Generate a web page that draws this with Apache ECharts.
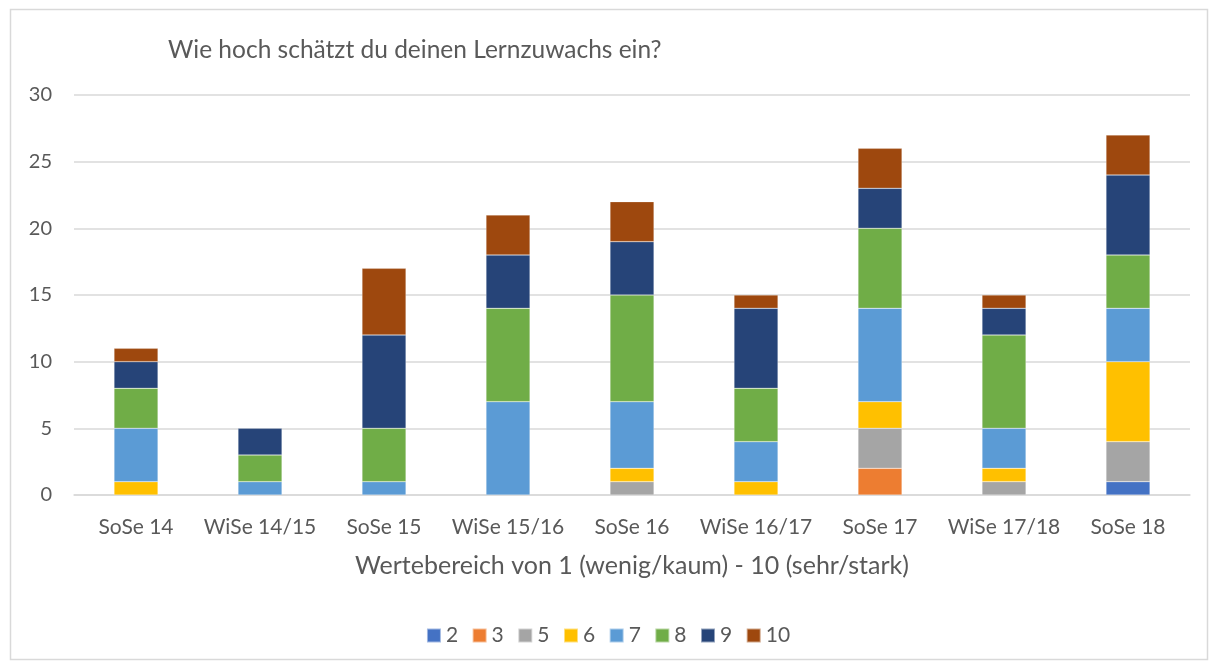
<!DOCTYPE html>
<html>
<head>
<meta charset="utf-8">
<script src="https://cdn.jsdelivr.net/npm/echarts@6/dist/echarts.min.js"></script>
<style>
  html, body { margin: 0; padding: 0; background: #fff; }
  #chart { width: 1216px; height: 668px; }
</style>
</head>
<body>
<div id="chart"></div>
<script>
// semesters and counts per rating (stacked)
const categories = ['SoSe 14', 'WiSe 14/15', 'SoSe 15', 'WiSe 15/16', 'SoSe 16', 'WiSe 16/17', 'SoSe 17', 'WiSe 17/18', 'SoSe 18'];
const rating2  = [0, 0, 0, 0, 0, 0, 0, 0, 1];
const rating3  = [0, 0, 0, 0, 0, 0, 2, 0, 0];
const rating5  = [0, 0, 0, 0, 1, 0, 3, 1, 3];
const rating6  = [1, 0, 0, 0, 1, 1, 2, 1, 6];
const rating7  = [4, 1, 1, 7, 5, 3, 7, 3, 4];
const rating8  = [3, 2, 4, 7, 8, 4, 6, 7, 4];
const rating9  = [2, 2, 7, 4, 4, 6, 3, 2, 6];
const rating10 = [1, 0, 5, 3, 3, 1, 3, 1, 3];
const seriesNames = ['2', '3', '5', '6', '7', '8', '9', '10'];
const yTicks = [0, 5, 10, 15, 20, 25, 30];

(function(){
  const el = document.getElementById('chart');
  const chart = echarts.init(el);
  const font = 'Lato, "Open Sans", sans-serif';
  const gray = '#595959';
  const colors = ['#4472C4', '#ED7D31', '#A5A5A5', '#FFC000', '#5B9BD5', '#70AD47', '#264478', '#9E480E'];
  const data = [rating2, rating3, rating5, rating6, rating7, rating8, rating9, rating10];

  chart.setOption({
    backgroundColor: '#fff',
    textStyle: { fontFamily: font, color: gray },
    title: {
      text: 'Wie hoch schätzt du deinen Lernzuwachs ein?',
      left: 163, top: 33,
      textStyle: { fontFamily: font, fontSize: 24.5, fontWeight: 'normal', color: gray }
    },
    graphic: [{
      type: 'rect', silent: true,
      shape: { x: 10.5, y: 9.5, width: 1197, height: 650 },
      style: { fill: 'none', stroke: '#d9d9d9', lineWidth: 1.5 }
    }],
    legend: {
      data: seriesNames,
      bottom: 17, left: 'center',
      itemWidth: 14, itemHeight: 14, itemGap: 13.5,
      icon: 'rect',
      textStyle: { fontFamily: font, fontSize: 21, color: gray }
    },
    grid: { left: 74, right: 26, top: 95, bottom: 173, containLabel: false },
    xAxis: {
      type: 'category', data: categories,
      name: 'Wertebereich von 1 (wenig/kaum) - 10 (sehr/stark)',
      nameLocation: 'middle', nameGap: 58,
      nameTextStyle: { fontFamily: font, fontSize: 25, color: gray },
      axisLine: { lineStyle: { color: '#d9d9d9', width: 1.5 } },
      axisTick: { show: false },
      axisLabel: { interval: 0, fontFamily: font, fontSize: 21, color: gray, margin: 22 }
    },
    yAxis: {
      type: 'value', min: yTicks[0], max: yTicks[yTicks.length - 1], interval: 5,
      axisLine: { show: false }, axisTick: { show: false },
      axisLabel: { fontFamily: font, fontSize: 20, color: gray, margin: 22 },
      splitLine: { lineStyle: { color: '#d9d9d9', width: 1.5 } }
    },
    series: seriesNames.map((name, i) => ({
      name: name, type: 'bar', stack: 'total',
      data: data[i].map(v => v === 0 ? null : v),
      barWidth: 44,
      itemStyle: { color: colors[i], borderColor: 'rgba(255,255,255,0.5)', borderWidth: 0.5 }
    }))
  });
})();
</script>
</body>
</html>
